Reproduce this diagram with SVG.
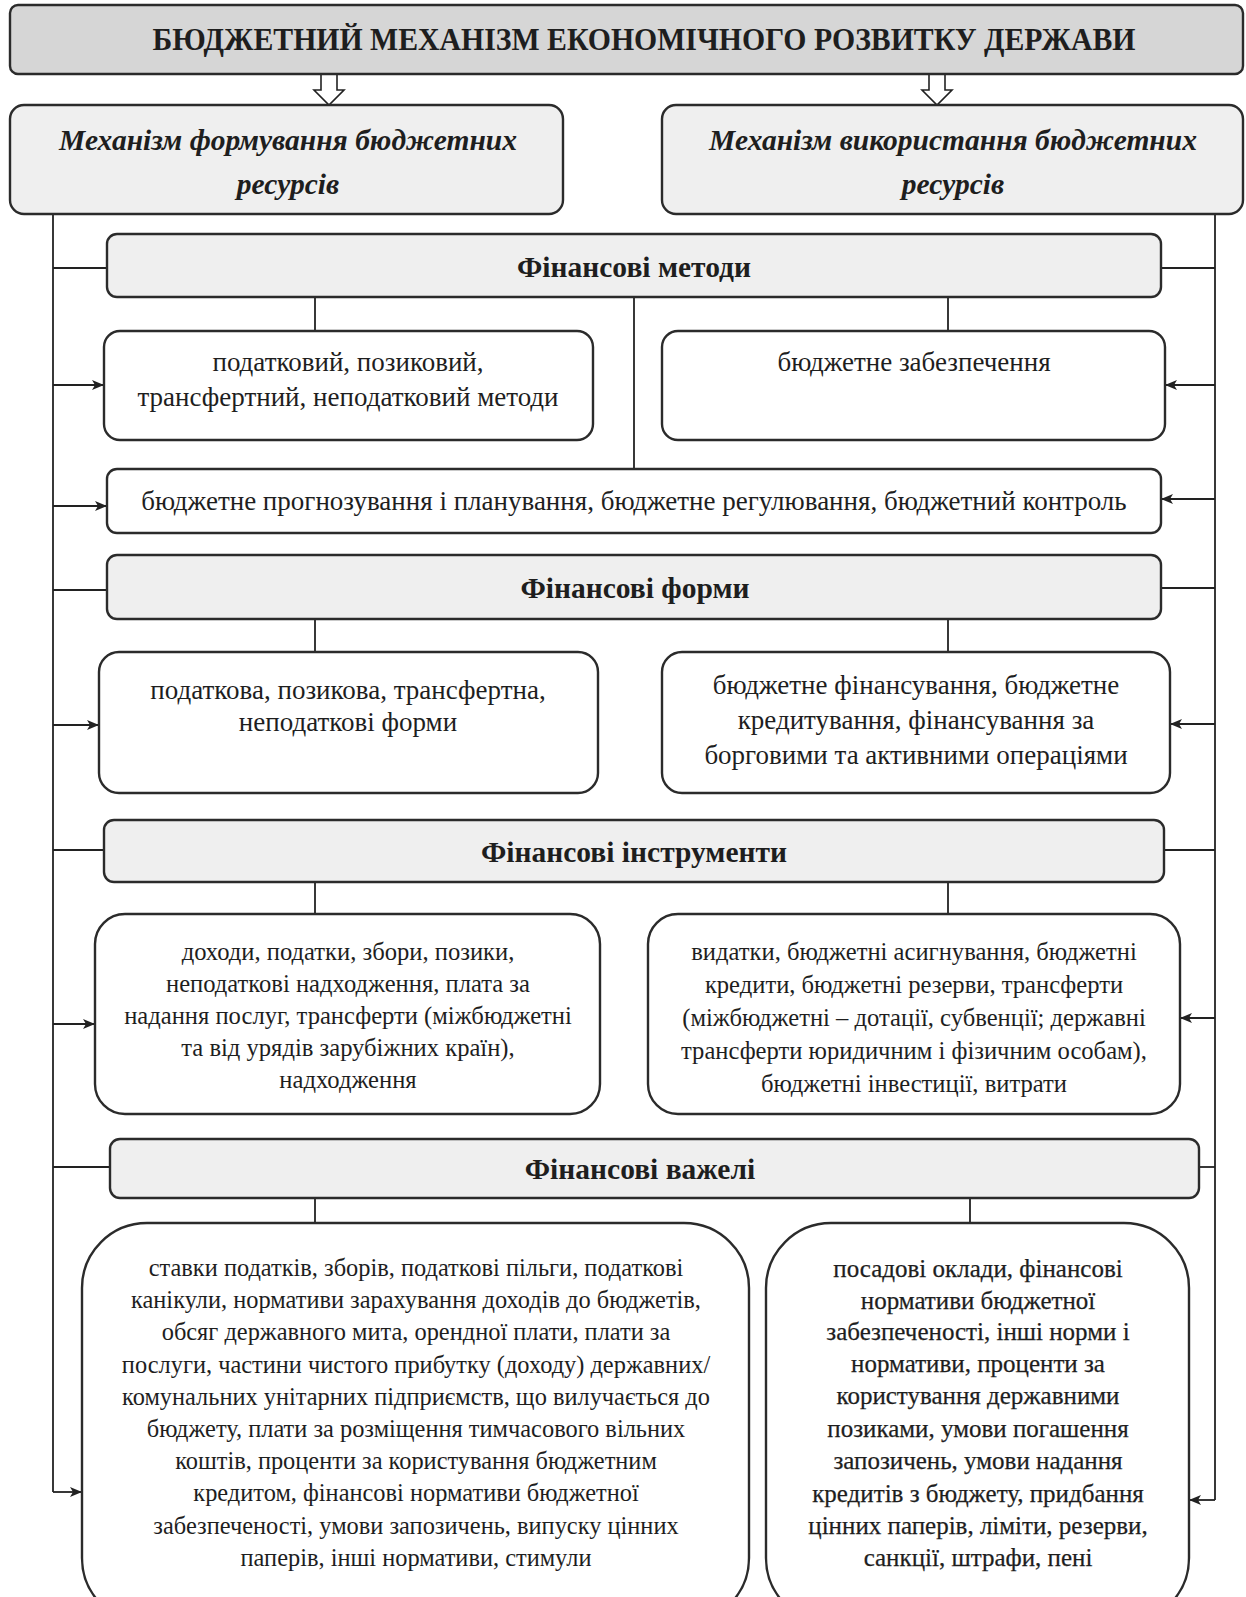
<svg xmlns="http://www.w3.org/2000/svg" width="1246" height="1597" viewBox="0 0 1246 1597">
<style>
.box{stroke:#2b2b2b;stroke-width:2.4;fill:#ffffff}
.top{fill:#d6d6d6}
.hdr{fill:#efefef}
.ln{stroke:#222;stroke-width:1.8;fill:none}
.arr{stroke:#222;stroke-width:1.8;fill:none;marker-end:url(#ah)}
.hollow{fill:#fff;stroke:#222;stroke-width:1.6}
text{font-family:"Liberation Serif","Times New Roman",serif;fill:#1e1e1e;text-anchor:middle}
.title{font-weight:bold;font-size:31px}
.mech{font-weight:bold;font-style:italic;font-size:29.5px}
.h{font-weight:bold;font-size:29.5px}
.t27{font-size:27px}
.t24{font-size:24.6px}
.tl{font-size:24.4px}
.tr{font-size:25px;stroke:#1e1e1e;stroke-width:0.25}
</style>
<defs>
<marker id="ah" markerUnits="userSpaceOnUse" markerWidth="13" markerHeight="11" refX="12" refY="5" orient="auto">
<path d="M0,0 L12,5 L0,10 L3,5 z" fill="#222"/>
</marker>
</defs>
<rect width="1246" height="1597" fill="#ffffff"/>

<g id="connectors">
<path class="hollow" d="M321,75 L321,90 L314,90 L329,105 L344,90 L337,90 L337,75"/>
<path class="hollow" d="M929,75 L929,90 L922,90 L937,105 L952,90 L945,90 L945,75"/>
<line class="ln" x1="53" y1="214" x2="53" y2="1492"/>
<line class="ln" x1="1215" y1="214" x2="1215" y2="1500"/>
<line class="ln" x1="53" y1="268" x2="107" y2="268"/>
<line class="ln" x1="1161" y1="268" x2="1215" y2="268"/>
<line class="ln" x1="315" y1="297" x2="315" y2="331"/>
<line class="ln" x1="948" y1="297" x2="948" y2="331"/>
<line class="ln" x1="634" y1="297" x2="634" y2="469"/>
<line class="arr" x1="53" y1="385" x2="104" y2="385"/>
<line class="arr" x1="1215" y1="385" x2="1165" y2="385"/>
<line class="arr" x1="53" y1="506" x2="107" y2="506"/>
<line class="arr" x1="1215" y1="499" x2="1161" y2="499"/>
<line class="ln" x1="53" y1="590" x2="107" y2="590"/>
<line class="ln" x1="1161" y1="588" x2="1215" y2="588"/>
<line class="ln" x1="315" y1="619" x2="315" y2="652"/>
<line class="ln" x1="948" y1="619" x2="948" y2="652"/>
<line class="arr" x1="53" y1="725" x2="99" y2="725"/>
<line class="arr" x1="1215" y1="724" x2="1170" y2="724"/>
<line class="ln" x1="53" y1="850" x2="104" y2="850"/>
<line class="ln" x1="1164" y1="850" x2="1215" y2="850"/>
<line class="ln" x1="315" y1="882" x2="315" y2="914"/>
<line class="ln" x1="948" y1="882" x2="948" y2="914"/>
<line class="arr" x1="53" y1="1024" x2="95" y2="1024"/>
<line class="arr" x1="1215" y1="1018" x2="1180" y2="1018"/>
<line class="ln" x1="53" y1="1167" x2="110" y2="1167"/>
<line class="ln" x1="1199" y1="1167" x2="1215" y2="1167"/>
<line class="ln" x1="315" y1="1198" x2="315" y2="1223"/>
<line class="ln" x1="970" y1="1198" x2="970" y2="1223"/>
<line class="arr" x1="53" y1="1492" x2="82" y2="1492"/>
<line class="arr" x1="1215" y1="1500" x2="1189" y2="1500"/>
</g>

<g id="n-title">
<rect class="box top" x="10" y="5" width="1233" height="69" rx="8"/>
<text class="title" x="644" y="50" textLength="983" lengthAdjust="spacingAndGlyphs">БЮДЖЕТНИЙ МЕХАНІЗМ ЕКОНОМІЧНОГО РОЗВИТКУ ДЕРЖАВИ</text>
</g>

<g id="n-mech-form">
<rect class="box hdr" x="10" y="105" width="553" height="109" rx="14"/>
<text class="mech" x="288" y="150">Механізм формування бюджетних</text>
<text class="mech" x="288" y="194">ресурсів</text>
</g>

<g id="n-mech-use">
<rect class="box hdr" x="662" y="105" width="581" height="109" rx="14"/>
<text class="mech" x="953" y="150">Механізм використання бюджетних</text>
<text class="mech" x="953" y="194">ресурсів</text>
</g>

<g id="n-methods">
<rect class="box hdr" x="107" y="234" width="1054" height="63" rx="10"/>
<text class="h" x="634" y="277">Фінансові методи</text>
</g>

<g id="n-methods-left">
<rect class="box" x="104" y="331" width="489" height="109" rx="16"/>
<text class="t27" x="348" y="371">податковий, позиковий,</text>
<text class="t27" x="348" y="406">трансфертний, неподатковий методи</text>
</g>

<g id="n-methods-right">
<rect class="box" x="662" y="331" width="503" height="109" rx="16"/>
<text class="t27" x="914" y="371">бюджетне забезпечення</text>
</g>

<g id="n-methods-common">
<rect class="box" x="107" y="469" width="1054" height="64" rx="10"/>
<text class="t27" x="634" y="510">бюджетне прогнозування і планування, бюджетне регулювання, бюджетний контроль</text>
</g>

<g id="n-forms">
<rect class="box hdr" x="107" y="555" width="1054" height="64" rx="10"/>
<text class="h" x="635" y="598">Фінансові форми</text>
</g>

<g id="n-forms-left">
<rect class="box" x="99" y="652" width="499" height="141" rx="20"/>
<text class="t27" x="348" y="699">податкова, позикова, трансфертна,</text>
<text class="t27" x="348" y="731">неподаткові форми</text>
</g>

<g id="n-forms-right">
<rect class="box" x="662" y="652" width="508" height="141" rx="20"/>
<text class="t27" x="916" y="694">бюджетне фінансування, бюджетне</text>
<text class="t27" x="916" y="729">кредитування, фінансування за</text>
<text class="t27" x="916" y="764">борговими та активними операціями</text>
</g>

<g id="n-instr">
<rect class="box hdr" x="104" y="820" width="1060" height="62" rx="10"/>
<text class="h" x="634" y="862">Фінансові інструменти</text>
</g>

<g id="n-instr-left">
<rect class="box" x="95" y="914" width="505" height="200" rx="30"/>
<text class="t24" x="348" y="960">доходи, податки, збори, позики,</text>
<text class="t24" x="348" y="992">неподаткові надходження, плата за</text>
<text class="t24" x="348" y="1024">надання послуг, трансферти (міжбюджетні</text>
<text class="t24" x="348" y="1056">та від урядів зарубіжних країн),</text>
<text class="t24" x="348" y="1088">надходження</text>
</g>

<g id="n-instr-right">
<rect class="box" x="648" y="914" width="532" height="200" rx="30"/>
<text class="t24" x="914" y="960">видатки, бюджетні асигнування, бюджетні</text>
<text class="t24" x="914" y="993">кредити, бюджетні резерви, трансферти</text>
<text class="t24" x="914" y="1026">(міжбюджетні – дотації, субвенції; державні</text>
<text class="t24" x="914" y="1059">трансферти юридичним і фізичним особам),</text>
<text class="t24" x="914" y="1092">бюджетні інвестиції, витрати</text>
</g>

<g id="n-levers">
<rect class="box hdr" x="110" y="1139" width="1089" height="59" rx="10"/>
<text class="h" x="640" y="1179">Фінансові важелі</text>
</g>

<g id="n-levers-left">
<rect class="box" x="82" y="1223" width="667" height="400" rx="65"/>
<text class="tl" x="416" y="1276">ставки податків, зборів, податкові пільги, податкові</text>
<text class="tl" x="416" y="1308">канікули, нормативи зарахування доходів до бюджетів,</text>
<text class="tl" x="416" y="1340">обсяг державного мита, орендної плати, плати за</text>
<text class="tl" x="416" y="1373">послуги, частини чистого прибутку (доходу) державних/</text>
<text class="tl" x="416" y="1405">комунальних унітарних підприємств, що вилучається до</text>
<text class="tl" x="416" y="1437">бюджету, плати за розміщення тимчасового вільних</text>
<text class="tl" x="416" y="1469">коштів, проценти за користування бюджетним</text>
<text class="tl" x="416" y="1501">кредитом, фінансові нормативи бюджетної</text>
<text class="tl" x="416" y="1534">забезпеченості, умови запозичень, випуску цінних</text>
<text class="tl" x="416" y="1566">паперів, інші нормативи, стимули</text>
</g>

<g id="n-levers-right">
<rect class="box" x="766" y="1223" width="423" height="400" rx="65"/>
<text class="tr" x="978" y="1277">посадові оклади, фінансові</text>
<text class="tr" x="978" y="1309">нормативи бюджетної</text>
<text class="tr" x="978" y="1340">забезпеченості, інші норми і</text>
<text class="tr" x="978" y="1372">нормативи, проценти за</text>
<text class="tr" x="978" y="1404">користування державними</text>
<text class="tr" x="978" y="1437">позиками, умови погашення</text>
<text class="tr" x="978" y="1469">запозичень, умови надання</text>
<text class="tr" x="978" y="1502">кредитів з бюджету, придбання</text>
<text class="tr" x="978" y="1534">цінних паперів, ліміти, резерви,</text>
<text class="tr" x="978" y="1566">санкції, штрафи, пені</text>
</g>
</svg>
